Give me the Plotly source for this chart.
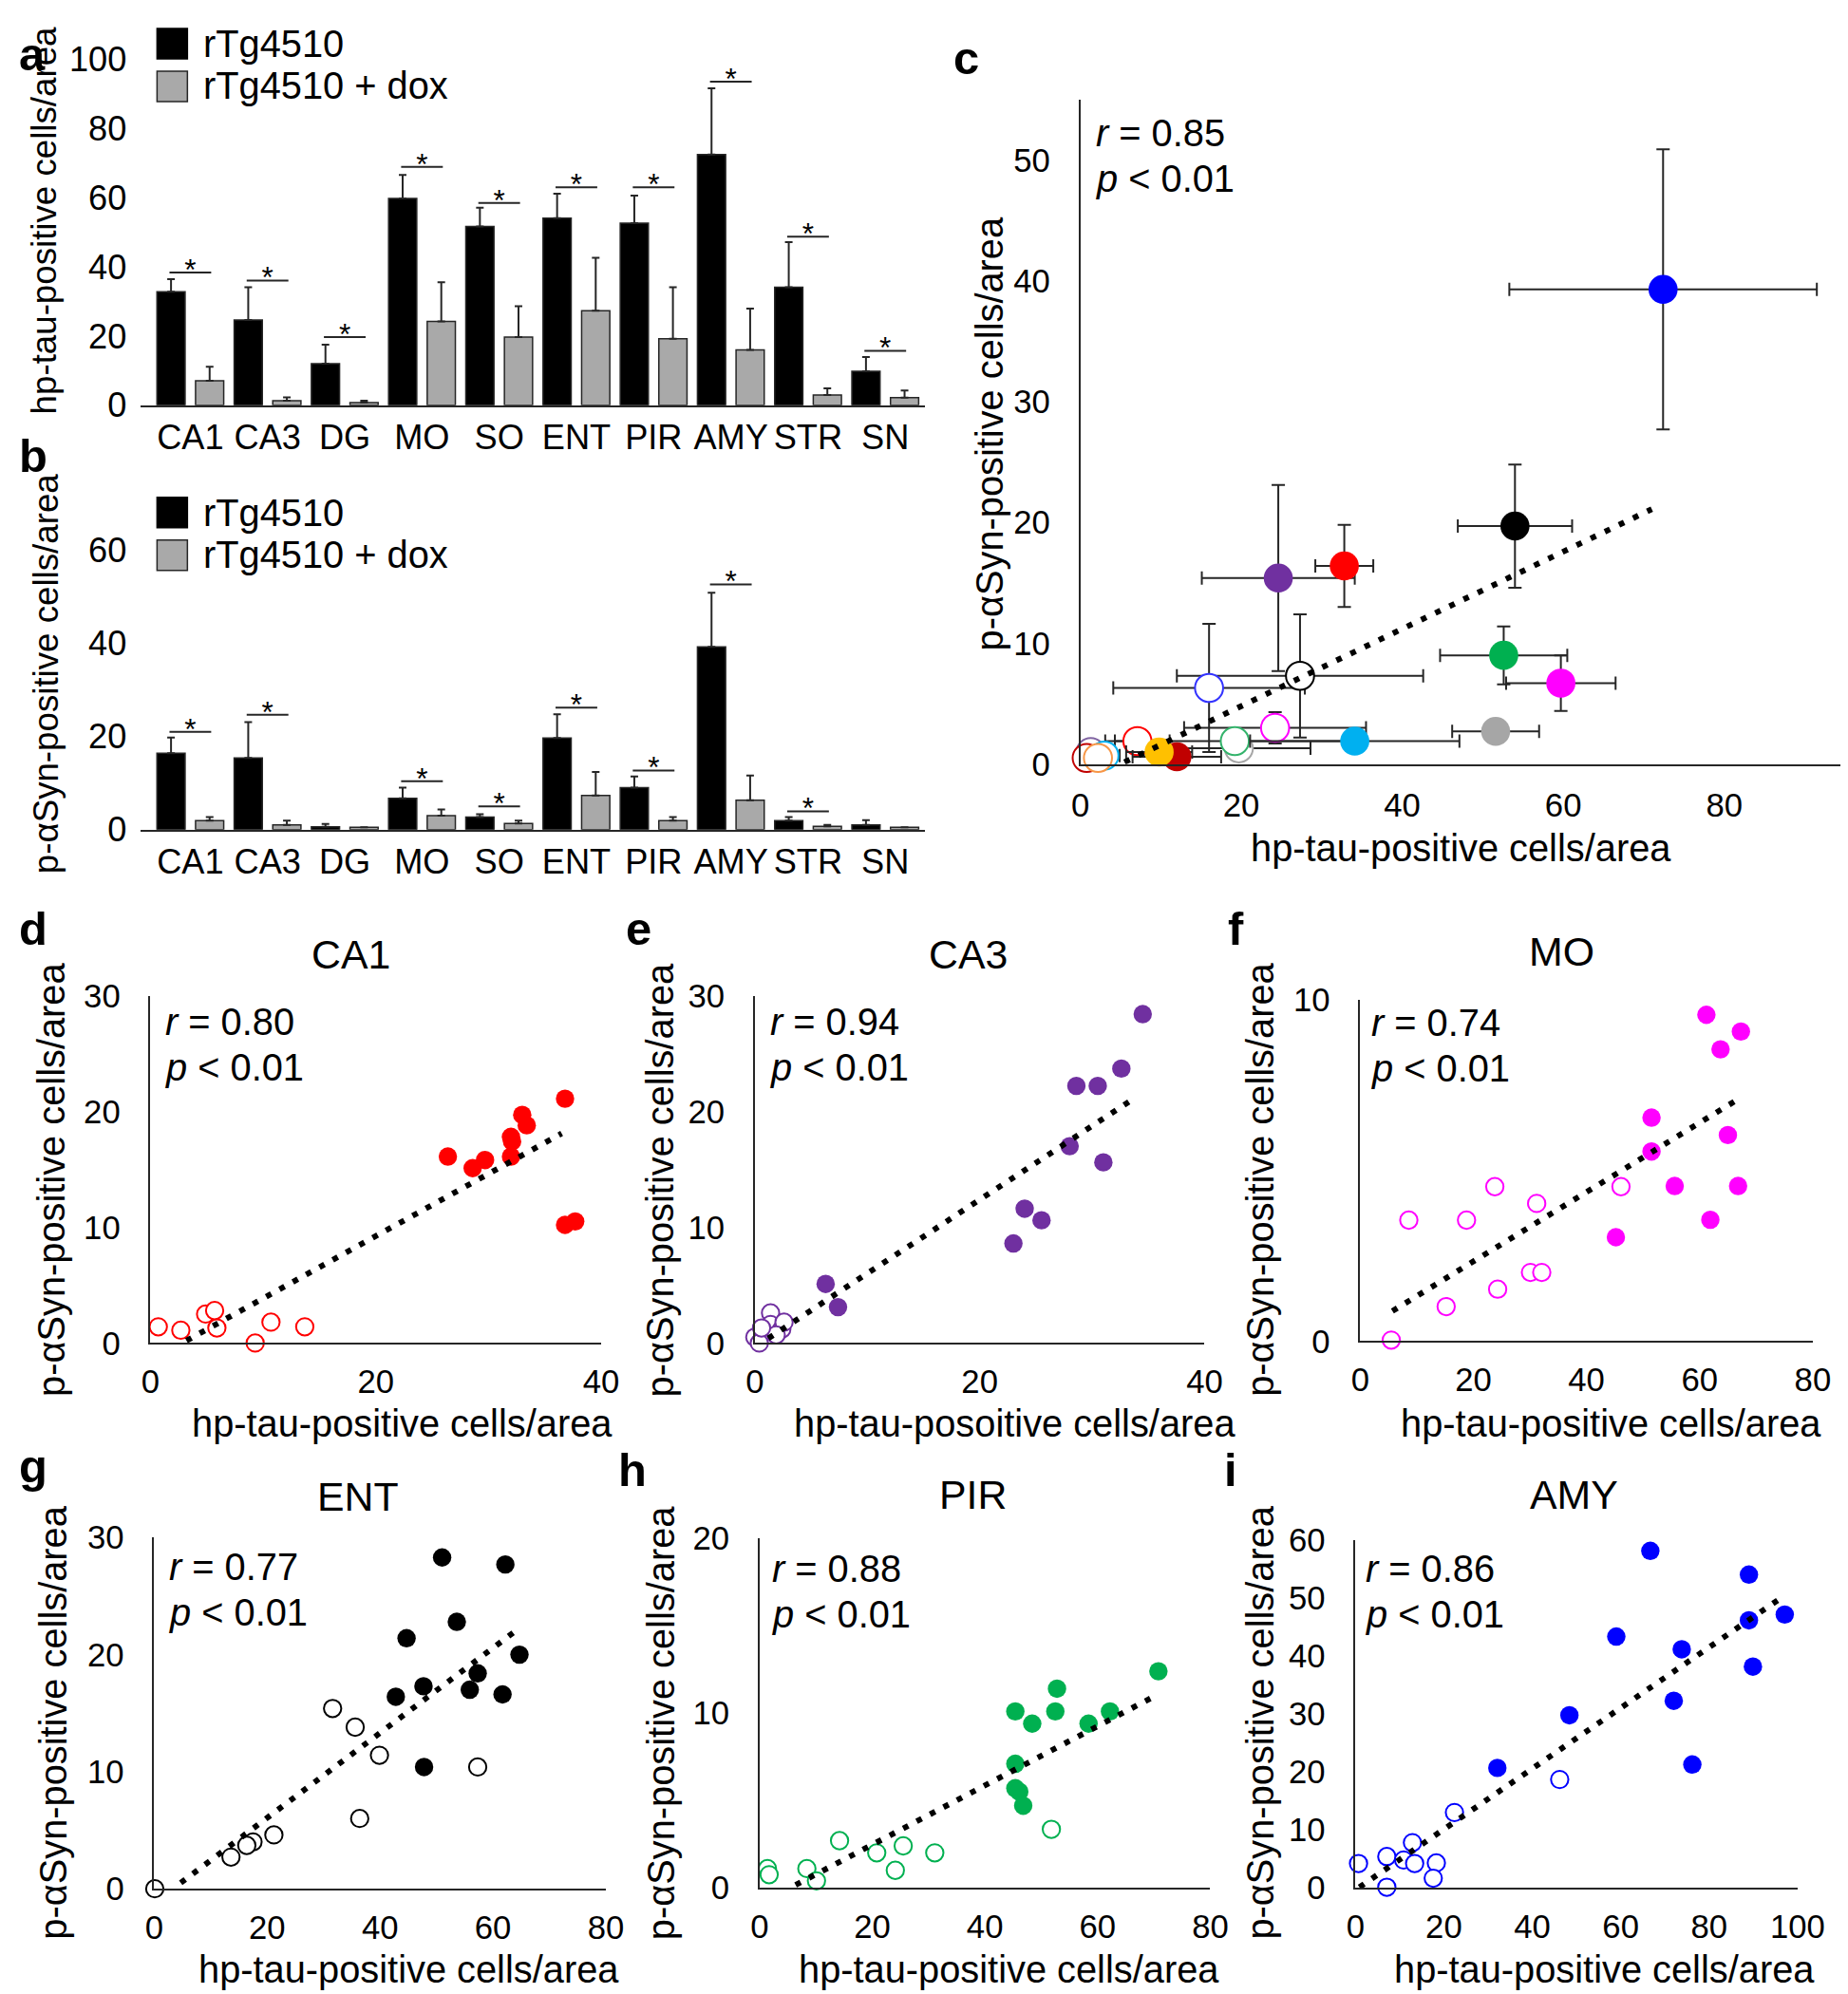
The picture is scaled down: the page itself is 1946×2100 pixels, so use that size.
import plotly.graph_objects as go

# ---------------- data ----------------
regions = ["CA1", "CA3", "DG", "MO", "SO", "ENT", "PIR", "AMY", "STR", "SN"]
tau_tg = [32.8, 24.6, 12.0, 59.7, 51.6, 54.0, 52.6, 72.4, 34.1, 9.8]
tau_tg_sd = [3.6, 9.5, 5.5, 6.8, 5.4, 7.1, 7.9, 19.1, 13.0, 4.1]
tau_dox = [7.1, 1.3, 0.8, 24.2, 19.7, 27.3, 19.2, 16.0, 3.0, 2.2]
tau_dox_sd = [4.0, 1.0, 0.5, 11.3, 8.9, 15.3, 14.9, 11.9, 1.9, 2.1]
syn_tg = [16.4, 15.4, 0.6, 6.7, 2.7, 19.7, 9.0, 39.3, 1.9, 1.0]
syn_tg_sd = [3.4, 7.7, 0.6, 2.3, 0.6, 5.1, 2.4, 11.6, 0.8, 1.0]
syn_dox = [1.9, 1.0, 0.5, 3.0, 1.3, 7.3, 1.9, 6.3, 0.7, 0.5]
syn_dox_sd = [0.8, 0.9, 0.0, 1.3, 0.6, 5.1, 0.8, 5.3, 0.3, 0.0]
sig_tau = [38.3, 36.0, 19.7, 68.8, 58.4, 62.9, 62.9, 93.4, 48.7, 15.7]
sig_syn = [21.0, 24.7, None, 10.4, 5.0, 26.2, 12.7, 52.7, 3.9, None]
region_colors = ["#ff0000", "#7030a0", "#c00000", "#ff00ff", "#a6a6a6",
                 "#000000", "#00b050", "#0000ff", "#00b0f0", "#ffc000"]
dox_colors = ["#ff0000", "#8064a2", "#c00000", "#ff00ff", "#a6a6a6",
              "#000000", "#33b36b", "#3333ff", "#00b0f0", "#f79646"]
r_c = "0.85"
trend_c_x = [5.5, 71.0]
trend_c_y = [0.16, 21.1]

# CA1
ca1_tg_x = [26.4, 28.6, 29.7, 32.0, 32.0, 32.1, 33.0, 33.4, 36.8, 36.8, 37.7]
ca1_tg_y = [16.1, 15.1, 15.8, 17.8, 16.1, 17.4, 19.7, 18.8, 21.1, 10.2, 10.5]
ca1_dox_x = [0.7, 2.7, 4.9, 5.7, 5.9, 9.3, 10.7, 13.7]
ca1_dox_y = [1.4, 1.1, 2.5, 2.8, 1.3, 0.0, 1.8, 1.4]
ca1_trend_x = [3.2, 36.5]
ca1_trend_y = [0.2, 18.1]
# CA3
ca3_tg_x = [34.5, 32.6, 28.6, 30.5, 28.0, 31.0, 24.0, 25.5, 23.0, 6.3, 7.4]
ca3_tg_y = [28.4, 23.7, 22.2, 22.2, 17.0, 15.6, 11.6, 10.6, 8.6, 5.1, 3.1]
ca3_dox_x = [1.4, 1.4, 2.4, 2.6, 1.9, 0.0, 0.4, 0.6]
ca3_dox_y = [2.6, 1.6, 1.2, 1.8, 0.7, 0.5, 0.0, 1.3]
ca3_trend_x = [1.2, 33.7]
ca3_trend_y = [0.4, 21.1]
# MO
mo_tg_x = [59.5, 61.2, 67.3, 63.7, 51.5, 65.0, 51.5, 55.6, 66.8, 61.9, 45.2]
mo_tg_y = [10.05, 9.55, 9.06, 8.54, 6.54, 6.03, 5.55, 4.54, 4.54, 3.55, 3.04]
mo_dox_x = [23.8, 46.1, 31.2, 8.6, 18.8, 30.1, 32.1, 24.3, 15.2, 5.5]
mo_dox_y = [4.52, 4.52, 4.03, 3.54, 3.54, 2.01, 2.01, 1.52, 1.01, 0.03]
mo_trend_x = [5.7, 67.0]
mo_trend_y = [0.88, 7.1]
# ENT
ent_tg_x = [51.0, 62.2, 53.6, 44.7, 64.7, 57.3, 47.7, 55.9, 42.8, 61.7, 47.8]
ent_tg_y = [28.3, 27.7, 22.8, 21.4, 20.0, 18.4, 17.3, 17.0, 16.4, 16.6, 10.4]
ent_dox_x = [31.6, 35.6, 39.9, 57.3, 36.4, 21.2, 17.5, 16.4, 13.6, 0.1]
ent_dox_y = [15.4, 13.8, 11.4, 10.4, 6.0, 4.6, 4.0, 3.7, 2.7, 0.0]
ent_trend_x = [4.7, 64.5]
ent_trend_y = [0.5, 22.2]
# PIR
pir_tg_x = [70.8, 52.8, 45.4, 52.5, 62.2, 48.4, 58.4, 45.4, 45.4, 46.1, 46.8]
pir_tg_y = [12.4, 11.4, 10.1, 10.1, 10.1, 9.4, 9.4, 7.1, 5.7, 5.5, 4.7]
pir_dox_x = [51.8, 14.2, 25.5, 20.8, 31.1, 1.4, 1.7, 8.4, 10.1, 24.1]
pir_dox_y = [3.35, 2.7, 2.4, 2.0, 2.0, 1.1, 0.75, 1.1, 0.4, 1.0]
pir_trend_x = [6.4, 70.3]
pir_trend_y = [0.16, 11.0]
# AMY
amy_tg_x = [66.7, 89.0, 97.1, 89.0, 59.0, 73.8, 89.9, 72.0, 48.4, 32.1, 76.2]
amy_tg_y = [58.2, 54.1, 47.2, 46.2, 43.4, 41.2, 38.2, 32.3, 29.8, 20.7, 21.3]
amy_dox_x = [46.2, 22.4, 12.9, 7.1, 0.7, 10.9, 13.4, 18.3, 17.6, 7.1]
amy_dox_y = [18.7, 13.0, 7.8, 5.4, 4.2, 4.8, 4.2, 4.3, 1.65, 0.1]
amy_trend_x = [0.9, 97.1]
amy_trend_y = [0.1, 50.5]

# ---------------- layout helpers ----------------
# page-to-photo mapping observed in earlier renders (scale + offset) is compensated here
SC, OX, OY = 0.981, 15.5, 28.0
W, H = 1966, 2110
K = 1.0 / SC
FONT = "Liberation Sans, Arial, sans-serif"
AXC = "#262626"


def px_x(X):
    return min(1.0, max(0.0, ((X - OX) / SC) / W))


def px_y(Y):
    return min(1.0, max(0.0, 1 - ((Y - OY) / SC) / H))


def fs(s):
    return round(s * K, 1)


fig = go.Figure()


def set_axes(n, xpx, ypx, xrange, yrange, xdtick=None, ydtick=None, yline=True,
             tickvals=None, ticktext=None, tsize=34, xstand=12, ystand=23):
    sx = "" if n == 1 else str(n)
    xa = dict(domain=[px_x(xpx[0]), px_x(xpx[1])], range=xrange, anchor="y" + sx,
              showline=True, linecolor=AXC, linewidth=2, ticks="", showgrid=False,
              zeroline=False, tickfont=dict(size=fs(tsize), family=FONT, color="black"),
              ticklabelstandoff=xstand, fixedrange=True)
    if tickvals is not None:
        xa.update(tickmode="array", tickvals=tickvals, ticktext=ticktext)
    else:
        xa.update(tick0=0, dtick=xdtick)
    ya = dict(domain=[px_y(ypx[1]), px_y(ypx[0])], range=yrange, anchor="x" + sx,
              showline=yline, linecolor=AXC, linewidth=1.5, ticks="", showgrid=False,
              zeroline=False, tick0=0, dtick=ydtick,
              tickfont=dict(size=fs(tsize), family=FONT, color="black"),
              ticklabelstandoff=ystand, fixedrange=True)
    fig.update_layout({"xaxis" + sx: xa, "yaxis" + sx: ya})


def txt(X, Y, text, size, xanchor="center", angle=0, yanchor="middle"):
    fig.add_annotation(x=px_x(X), y=px_y(Y), xref="paper", yref="paper", text=text,
                       showarrow=False, xanchor=xanchor, yanchor=yanchor, textangle=angle,
                       font=dict(size=fs(size), family=FONT, color="black"))


def letter(X, baseline, ch):
    cy = baseline - 17
    if (cy - OY) / SC < 28:
        txt(X, OY, "<b>%s</b>" % ch, 48, xanchor="left", yanchor="top")
    else:
        txt(X, cy, "<b>%s</b>" % ch, 48, xanchor="left")


# ---------------- bar panels a, b ----------------
idx = list(range(len(regions)))


def bar_panel(n, tg, tg_sd, dox, dox_sd, sig):
    sx = "" if n == 1 else str(n)
    for vals, sd, col in ((tg, tg_sd, "#000000"), (dox, dox_sd, "#a9a9a9")):
        fig.add_trace(go.Bar(
            x=idx, y=vals, xaxis="x" + sx, yaxis="y" + sx, showlegend=False,
            marker=dict(color=col, line=dict(color=AXC, width=1.5)),
            error_y=dict(type="data", symmetric=False, array=sd,
                         arrayminus=[0] * len(sd), color=AXC, thickness=2, width=4)))
    lx, ly, sxs, sys_ = [], [], [], []
    for i, s in enumerate(sig):
        if s is None:
            continue
        lx += [i - 0.27, i + 0.27, None]
        ly += [s, s, None]
        sxs.append(i)
        sys_.append(s)
    fig.add_trace(go.Scatter(x=lx, y=ly, mode="lines", xaxis="x" + sx, yaxis="y" + sx,
                             line=dict(color=AXC, width=2), showlegend=False,
                             cliponaxis=False))
    fig.add_trace(go.Scatter(x=sxs, y=sys_, mode="text", text=["*"] * len(sxs),
                             textposition="middle center", xaxis="x" + sx, yaxis="y" + sx,
                             textfont=dict(size=fs(31), family=FONT, color="black"),
                             showlegend=False, cliponaxis=False))


bar_panel(1, tau_tg, tau_tg_sd, tau_dox, tau_dox_sd, sig_tau)
bar_panel(2, syn_tg, syn_tg_sd, syn_dox, syn_dox_sd, sig_syn)
set_axes(1, (146, 972), (62, 427), [-0.64, 9.51], [0, 100], ydtick=20, yline=False,
         tickvals=idx, ticktext=regions, tsize=35.5, xstand=1, ystand=14)
set_axes(2, (146, 972), (531, 874), [-0.64, 9.51], [0, 70], ydtick=20, yline=False,
         tickvals=idx, ticktext=regions, tsize=35.5, xstand=1, ystand=14)

# legends for a and b
for top in (30, 524):
    fig.add_shape(type="rect", xref="paper", yref="paper", x0=px_x(163), x1=px_x(195),
                  y0=px_y(top + 32), y1=px_y(top), fillcolor="#000000",
                  line=dict(color="#000000", width=1.5))
    fig.add_shape(type="rect", xref="paper", yref="paper", x0=px_x(163), x1=px_x(195),
                  y0=px_y(top + 77), y1=px_y(top + 45), fillcolor="#a9a9a9",
                  line=dict(color=AXC, width=1.5))
    txt(210, top + 16, "rTg4510", 39, xanchor="left")
    txt(210, top + 60, "rTg4510 + dox", 39, xanchor="left")

txt(44, 232, "hp-tau-positive cells/area", 36, angle=-90)
txt(46, 710, "p-αSyn-positive cells/area", 36, angle=-90)
letter(5, 32, "a")
letter(6, 497, "b")

# ---------------- panel c ----------------
fig.add_trace(go.Scatter(
    x=tau_dox, y=syn_dox, mode="markers", xaxis="x3", yaxis="y3", showlegend=False,
    cliponaxis=False,
    marker=dict(size=fs(29), color="white", line=dict(color=dox_colors, width=2)),
    error_x=dict(type="data", array=tau_dox_sd, color=AXC, thickness=2, width=7),
    error_y=dict(type="data", array=syn_dox_sd, color=AXC, thickness=2, width=7)))
fig.add_trace(go.Scatter(
    x=tau_tg, y=syn_tg, mode="markers", xaxis="x3", yaxis="y3", showlegend=False,
    cliponaxis=False,
    marker=dict(size=fs(30), color=region_colors, line=dict(width=0)),
    error_x=dict(type="data", array=tau_tg_sd, color=AXC, thickness=2, width=7),
    error_y=dict(type="data", array=syn_tg_sd, color=AXC, thickness=2, width=7)))
fig.add_trace(go.Scatter(x=trend_c_x, y=trend_c_y, mode="lines", xaxis="x3", yaxis="y3",
                         line=dict(color="black", width=6, dash="6px,10.5px"),
                         showlegend=False, cliponaxis=False))
set_axes(3, (1136, 1942), (105, 805), [0, 95], [0, 55], xdtick=20, ydtick=10,
         xstand=12, ystand=23)
txt(1040, 457, "p-αSyn-positive cells/area", 39, angle=-90)
txt(1537, 893, "hp-tau-positive cells/area", 39)
txt(1150, 140, "<i>r</i> = %s" % r_c, 39, xanchor="left")
txt(1150, 188, "<i>p</i> < 0.01", 39, xanchor="left")
letter(1000, 78, "c")

# ---------------- panels d-i ----------------
panels = [
    (4, "d", "CA1", "0.80", ca1_tg_x, ca1_tg_y, ca1_dox_x, ca1_dox_y, ca1_trend_x, ca1_trend_y,
     "#ff0000", "hp-tau-positive cells/area"),
    (5, "e", "CA3", "0.94", ca3_tg_x, ca3_tg_y, ca3_dox_x, ca3_dox_y, ca3_trend_x, ca3_trend_y,
     "#7030a0", "hp-tau-posoitive cells/area"),
    (6, "f", "MO", "0.74", mo_tg_x, mo_tg_y, mo_dox_x, mo_dox_y, mo_trend_x, mo_trend_y,
     "#ff00ff", "hp-tau-positive cells/area"),
    (7, "g", "ENT", "0.77", ent_tg_x, ent_tg_y, ent_dox_x, ent_dox_y, ent_trend_x, ent_trend_y,
     "#000000", "hp-tau-positive cells/area"),
    (8, "h", "PIR", "0.88", pir_tg_x, pir_tg_y, pir_dox_x, pir_dox_y, pir_trend_x, pir_trend_y,
     "#00b050", "hp-tau-positive cells/area"),
    (9, "i", "AMY", "0.86", amy_tg_x, amy_tg_y, amy_dox_x, amy_dox_y, amy_trend_x, amy_trend_y,
     "#0000ff", "hp-tau-positive cells/area"),
]

geom = {
    4: ((156, 631), (1049, 1415), [0, 40], [0, 30], 20, 10, 52, 1243, 421, 1500,
        367, 1005, 170, 1076, 10, 995),
    5: ((793, 1267), (1049, 1415), [0, 40], [0, 30], 20, 10, 694, 1243, 1067, 1500,
        1018, 1005, 807, 1076, 655, 995),
    6: ((1431, 1908), (1053, 1413), [0, 80], [0, 10], 20, 10, 1326, 1243, 1695, 1500,
        1643, 1002, 1441, 1077, 1290, 995),
    7: ((160, 636), (1620, 1990), [0, 80], [0, 30], 20, 10, 54, 1815, 428, 2075,
        375, 1577, 174, 1651, 10, 1562),
    8: ((798, 1273), (1621, 1989), [0, 80], [0, 20], 20, 10, 694, 1815, 1061, 2075,
        1023, 1575, 809, 1653, 647, 1566),
    9: ((1426, 1892), (1623, 1989), [0, 100], [0, 60], 20, 10, 1326, 1815, 1688, 2075,
        1656, 1575, 1435, 1653, 1286, 1566),
}

for (n, let, title, r, tgx, tgy, dx, dy, trx, try_, col, xtitle) in panels:
    g = geom[n]
    fig.add_trace(go.Scatter(x=dx, y=dy, mode="markers", xaxis="x%d" % n, yaxis="y%d" % n,
                             marker=dict(size=fs(18), color="white",
                                         line=dict(color=col, width=2)),
                             showlegend=False, cliponaxis=False))
    fig.add_trace(go.Scatter(x=tgx, y=tgy, mode="markers", xaxis="x%d" % n, yaxis="y%d" % n,
                             marker=dict(size=fs(19), color=col, line=dict(width=0)),
                             showlegend=False, cliponaxis=False))
    fig.add_trace(go.Scatter(x=trx, y=try_, mode="lines", xaxis="x%d" % n, yaxis="y%d" % n,
                             line=dict(color="black", width=6, dash="6px,10px"),
                             showlegend=False, cliponaxis=False))
    set_axes(n, g[0], g[1], g[2], g[3], xdtick=g[4], ydtick=g[5], xstand=9, ystand=23)
    txt(g[6], g[7], "p-αSyn-positive cells/area", 39, angle=-90)
    txt(g[8], g[9], xtitle, 39)
    txt(g[10], g[11], title, 42)
    txt(g[12], g[13], "<i>r</i> = %s" % r, 39, xanchor="left")
    txt(g[12], g[13] + 48, "<i>p</i> < 0.01", 39, xanchor="left")
    letter(g[14], g[15], let)

fig.update_layout(
    width=W, height=H, margin=dict(l=0, r=0, t=0, b=0),
    paper_bgcolor="white", plot_bgcolor="white",
    barmode="group", bargap=0, bargroupgap=0.27,
    font=dict(family=FONT, color="black"),
    showlegend=False,
)

fig.write_html("out.html")
